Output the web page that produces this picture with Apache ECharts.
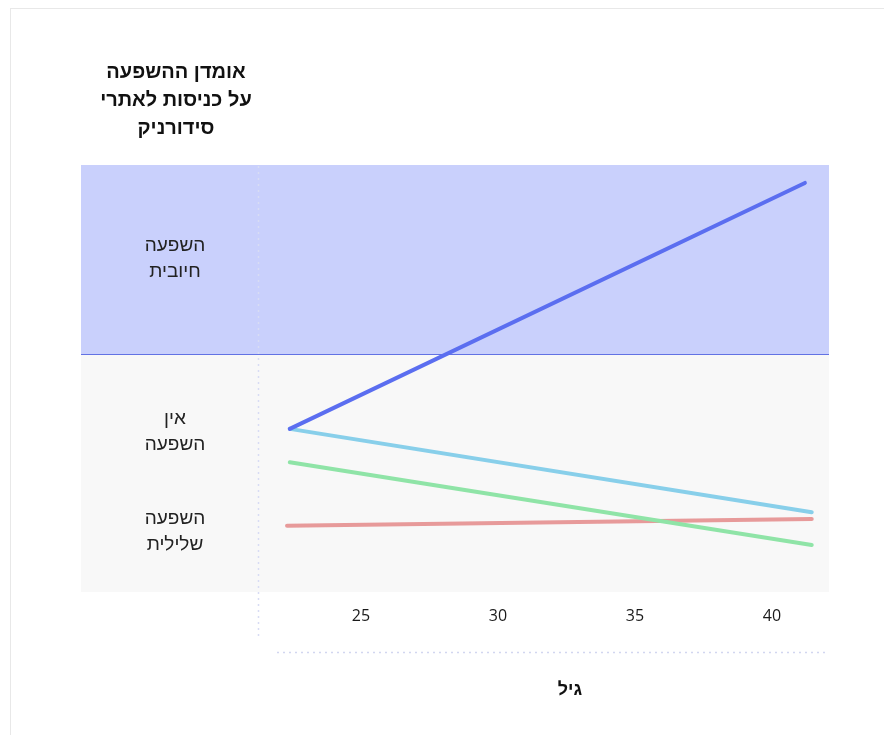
<!DOCTYPE html>
<html lang="he">
<head>
<meta charset="utf-8">
<script src="https://cdn.jsdelivr.net/npm/echarts@6/dist/echarts.min.js"></script>
<style>
  html, body { margin: 0; padding: 0; background: #ffffff; }
  #card { position: absolute; left: 10px; top: 8px; width: 900px; height: 800px;
          border: 1px solid #e8e8e8; box-sizing: border-box; }
  #chart { position: absolute; left: 0; top: 0; width: 884px; height: 735px; }
</style>
</head>
<body>
<div id="card"></div>
<div id="chart"></div>
<script>
// Age axis ticks and level bands for the estimated effect
const ageTicks = [25, 30, 35, 40];
const levelLabels = ['השפעה\nחיובית', 'אין\nהשפעה', 'השפעה\nשלילית'];
const levelPositions = [78, 37.5, 14];
const positiveFrom = 55.7;

// Estimated effect lines (age, effect index)
const seriesNames = ['סדרה 1', 'סדרה 2', 'סדרה 3', 'סדרה 4'];
const seriesColors = ['#5b6ef0', '#88cfea', '#8fe4a7', '#e79a9a'];
const lineBlue = [[22.4, 38.2], [41.2, 95.8]];
const lineLightBlue = [[22.4, 38.2], [41.45, 18.7]];
const lineGreen = [[22.4, 30.4], [41.45, 11.0]];
const lineRed = [[22.3, 15.5], [41.45, 17.1]];
const lineData = [lineBlue, lineLightBlue, lineGreen, lineRed];

const FONT = '"Open Sans", "Liberation Sans", "DejaVu Sans", sans-serif';
const HEB_FONT = '"Liberation Sans", "DejaVu Sans", sans-serif';

const chart = echarts.init(document.getElementById('chart'), null, { renderer: 'canvas' });

const series = lineData.map((d, i) => ({
  name: seriesNames[i],
  type: 'line',
  data: d,
  symbol: 'none',
  z: 5 + (3 - i),
  lineStyle: { color: seriesColors[i], width: 4, cap: 'round' },
  silent: true
}));

// Background bands and the divider between them
series.push({
  type: 'line',
  data: [],
  silent: true,
  z: 1,
  markArea: {
    silent: true,
    itemStyle: { opacity: 1 },
    data: [
      [{ yAxis: positiveFrom, itemStyle: { color: '#c9d0fc' } }, { yAxis: 100 }],
      [{ yAxis: 0, itemStyle: { color: '#f8f8f8' } }, { yAxis: positiveFrom }]
    ]
  },
  markLine: {
    silent: true,
    symbol: 'none',
    label: { show: false },
    lineStyle: { color: '#6272e4', width: 1.2, type: 'solid' },
    data: [{ yAxis: positiveFrom }]
  }
});

chart.setOption({
  animation: false,
  grid: { left: 81, right: 55, top: 165, bottom: 143, containLabel: false },
  xAxis: {
    type: 'value',
    min: 14.78,
    max: 42.08,
    axisLine: { show: false },
    axisTick: { show: false },
    splitLine: { show: false },
    axisLabel: {
      customValues: ageTicks,
      margin: 16,
      color: '#1a1a1a',
      fontSize: 16,
      fontFamily: FONT
    }
  },
  yAxis: {
    type: 'value',
    min: 0,
    max: 100,
    z: 10,
    axisLine: { show: false },
    axisTick: { show: false },
    splitLine: { show: false },
    axisLabel: {
      inside: true,
      customValues: levelPositions,
      formatter: v => levelLabels[levelPositions.indexOf(v)] || '',
      margin: 94,
      align: 'center',
      verticalAlign: 'middle',
      color: '#222222',
      fontSize: 19,
      lineHeight: 26,
      fontFamily: HEB_FONT
    }
  },
  graphic: [
    {
      type: 'text', x: 176, y: 58, z: 10,
      style: {
        text: 'אומדן ההשפעה\nעל כניסות לאתרי\nסידורניק',
        fill: '#111111', font: 'bold 20px ' + HEB_FONT, lineHeight: 28,
        align: 'center', verticalAlign: 'top'
      }
    },
    {
      type: 'text', x: 570, y: 690, z: 10,
      style: {
        text: 'גיל', fill: '#111111', font: 'bold 18px ' + HEB_FONT,
        align: 'center', verticalAlign: 'middle'
      }
    },
    {
      type: 'line', z: 4,
      shape: { x1: 258.5, y1: 166, x2: 258.5, y2: 637 },
      style: { stroke: '#d8dcf4', lineWidth: 1.5, lineDash: [2, 4] }
    },
    {
      type: 'line', z: 4,
      shape: { x1: 277, y1: 652.5, x2: 829, y2: 652.5 },
      style: { stroke: '#d2d6f0', lineWidth: 1.5, lineDash: [2, 4] }
    }
  ],
  series: series
});
</script>
</body>
</html>
